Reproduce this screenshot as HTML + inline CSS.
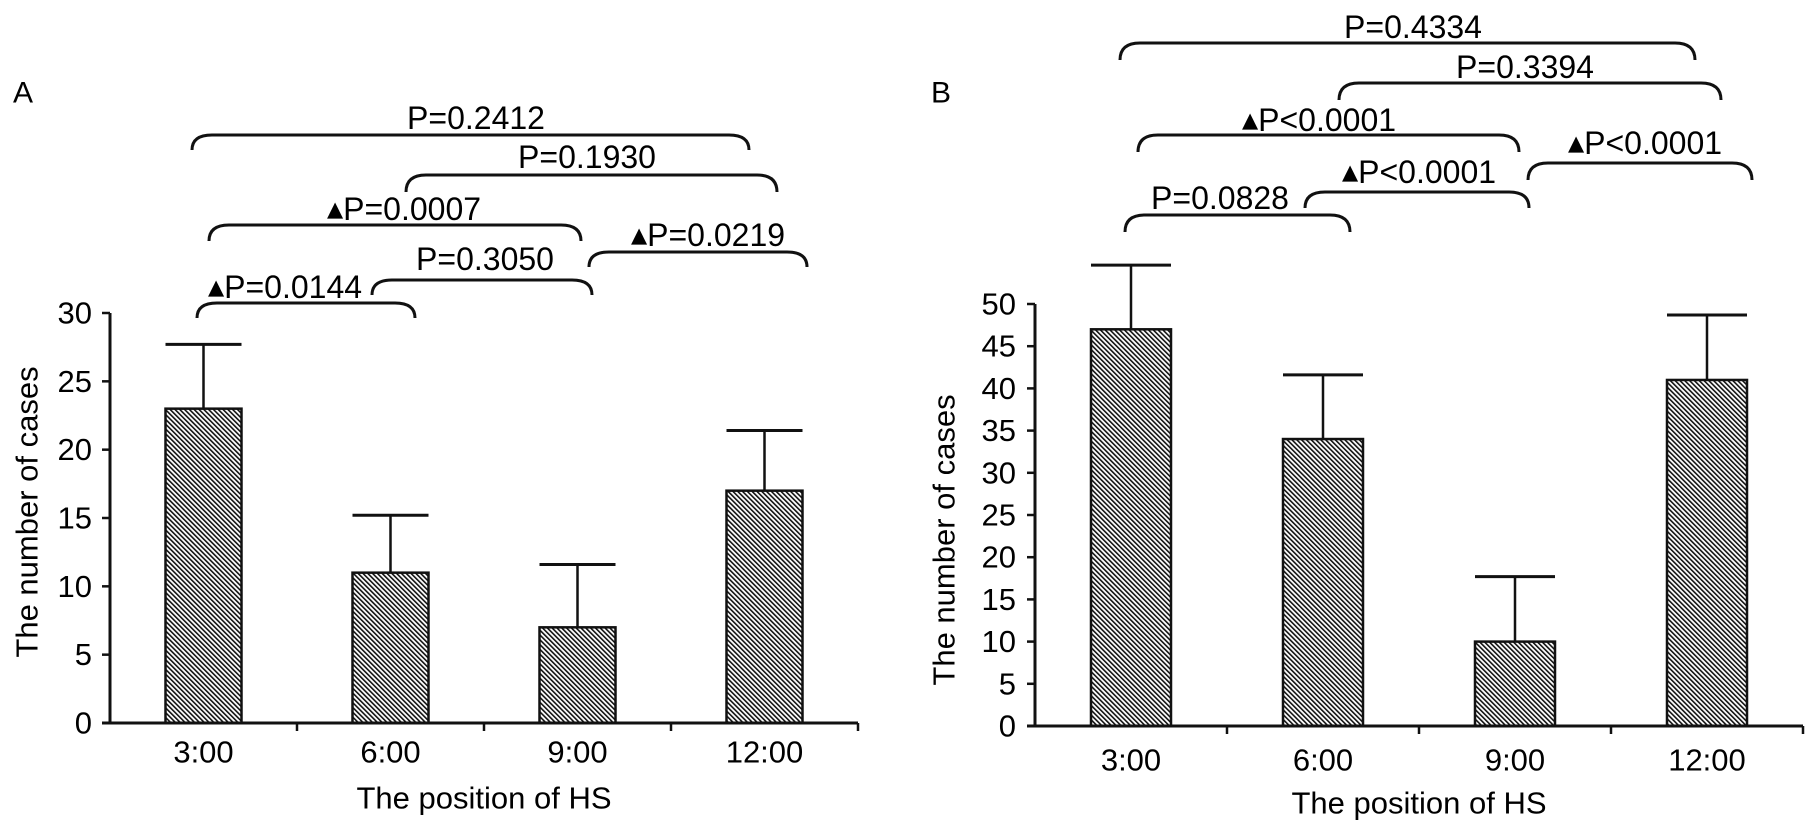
<!DOCTYPE html>
<html><head><meta charset="utf-8"><style>
html,body{margin:0;padding:0;background:#fff;}
svg{display:block;font-family:"Liberation Sans",Arial,sans-serif;}
</style></head><body>
<svg id="fig" width="1809" height="834" viewBox="0 0 1809 834">
<defs>
<pattern id="hatch" patternUnits="userSpaceOnUse" width="3.4" height="3.4" patternTransform="rotate(-45)">
<rect width="3.4" height="3.4" fill="#fff"/>
<rect width="1.6" height="3.4" fill="#111"/>
</pattern>
</defs>
</svg>
<script>
const categories = ["3:00","6:00","9:00","12:00"];
const valuesA = [23, 11, 7, 17];
const errorsA = [27.7, 15.2, 11.6, 21.4];
const ticksA = [0,5,10,15,20,25,30];
const valuesB = [47, 34, 10, 41];
const errorsB = [54.6, 41.6, 17.7, 48.7];
const ticksB = [0,5,10,15,20,25,30,35,40,45,50];
const compA = [["P=0.2412",0,3,false],["P=0.1930",1,3,false],["P=0.0007",0,2,true],["P=0.0219",2,3,true],["P=0.3050",1,2,false],["P=0.0144",0,1,true]];
const compB = [["P=0.4334",0,3,false],["P=0.3394",1,3,false],["P<0.0001",0,2,true],["P<0.0001",2,3,true],["P<0.0001",1,2,true],["P=0.0828",0,1,false]];

const NS="http://www.w3.org/2000/svg";
const svg=document.getElementById('fig');
function mk(tag,attrs,parent){const e=document.createElementNS(NS,tag);for(const k in attrs)e.setAttribute(k,attrs[k]);(parent||svg).appendChild(e);return e;}

const panels=[
 {id:'a',letter:'A',lx:23,ly:93,ax:110,y0:723,yTop:313,maxV:30,step:187,bw:76,vals:valuesA,errs:errorsA,ticks:ticksA,
  lblY:752,titleY:798,ytx:27,yty:512,tickLblX:92,comps:compA,
  br:[[192,749,135,150,476,118],[406,777,175,192,587,157],[209,581,225,241,404,209],[589,807,252,267,708,235],[372,592,280,295,485,259],[197,415,303,318,285,287]]},
 {id:'b',letter:'B',lx:941,ly:93,ax:1035,y0:726,yTop:304,maxV:50,step:192,bw:80,vals:valuesB,errs:errorsB,ticks:ticksB,
  lblY:760,titleY:803,ytx:944,yty:540,tickLblX:1016,comps:compB,
  br:[[1120,1695,43,60,1413,27],[1339,1721,83,100,1525,67],[1138,1519,135,152,1319,120],[1528,1752,163,180,1645,143],[1305,1529,192,208,1419,172],[1125,1350,215,232,1220,198]]}
];

panels.forEach(p=>{
 const g=mk('g',{});
 
 
 const yS=v=>p.y0-(v/p.maxV)*(p.y0-p.yTop);
 const xC=i=>p.ax+p.step*(i+0.5);
 const L=mk('text',{x:p.lx,y:p.ly,'font-size':30,'text-anchor':'middle','dominant-baseline':'central'},g);
 L.textContent=p.letter;
 
 
 p.vals.forEach((v,i)=>{
  const e=mk('line',{x1:xC(i),x2:xC(i),y1:yS(v),y2:yS(p.errs[i]),stroke:'#111','stroke-width':2.5},g);
  
  
  const c=mk('line',{x1:xC(i)-p.bw/2,x2:xC(i)+p.bw/2,y1:yS(p.errs[i]),y2:yS(p.errs[i]),stroke:'#111','stroke-width':3},g);
  
  
  const r=mk('rect',{x:xC(i)-p.bw/2,y:yS(v),width:p.bw,height:p.y0-yS(v),fill:'url(#hatch)',stroke:'#111','stroke-width':2.5},g);
  
  
  const t=mk('text',{x:xC(i),y:p.lblY,'font-size':31,'text-anchor':'middle','dominant-baseline':'central'},g);
  t.textContent=categories[i];
  
  
 });
 const ya=mk('line',{x1:p.ax,x2:p.ax,y1:p.yTop,y2:p.y0,stroke:'#111','stroke-width':3},g);
 
 
 const xa=mk('line',{x1:p.ax-8,x2:p.ax+p.step*4,y1:p.y0,y2:p.y0,stroke:'#111','stroke-width':3},g);
 
 
 for(let k=1;k<=4;k++){
  const tk=mk('line',{x1:p.ax+p.step*k,x2:p.ax+p.step*k,y1:p.y0,y2:p.y0+8,stroke:'#111','stroke-width':2.5},g);
  
  
 }
 p.ticks.forEach(v=>{
  const tk=mk('line',{x1:p.ax-8,x2:p.ax,y1:yS(v),y2:yS(v),stroke:'#111','stroke-width':2.5},g);
  
  
  const t=mk('text',{x:p.tickLblX,y:yS(v),'font-size':31,'text-anchor':'end','dominant-baseline':'central'},g);
  t.textContent=v;
  
  
 });
 const xt=mk('text',{x:p.ax+p.step*2,y:p.titleY,'font-size':31,'text-anchor':'middle','dominant-baseline':'central'},g);
 xt.textContent='The position of HS';
 
 
 const yt=mk('text',{x:p.ytx,y:p.yty,'font-size':31,'text-anchor':'middle','dominant-baseline':'central',transform:`rotate(-90 ${p.ytx} ${p.yty})`},g);
 yt.textContent='The number of cases';
 
 
 p.comps.forEach((c,j)=>{
  const [x1,x2,top,end,tx,ty]=p.br[j];
  const path=mk('path',{d:`M${x1} ${end} Q${x1} ${top} ${x1+20} ${top} L${x2-20} ${top} Q${x2} ${top} ${x2} ${end}`,fill:'none',stroke:'#111','stroke-width':3},g);
  
  
  const t=mk('text',{x:tx,y:ty,'font-size':32,'text-anchor':'middle','dominant-baseline':'central'},g);
  if(c[3]){const s=mk('tspan',{'font-size':21,'font-family':'DejaVu Sans, sans-serif'},t);s.textContent='▲';}
  const s2=mk('tspan',{},t);s2.textContent=c[0];
  
  
 });
});
</script>
</body></html>
